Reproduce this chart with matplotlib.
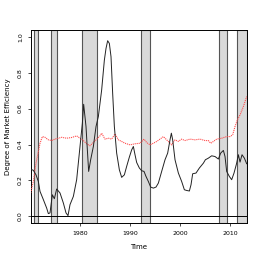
import matplotlib
matplotlib.use("Agg")
import matplotlib.pyplot as plt

# Recession bands (start, end)
band_start = [1970.87, 1974.2, 1980.47, 1992.27, 2007.73, 2011.47]
band_end = [1971.67, 1975.4, 1983.47, 1993.93, 2009.47, 2013.33]

# Black solid line: degree of market efficiency
eff_years = [1970.13, 1970.67, 1971.2, 1971.67, 1972.0, 1972.67, 1973.33, 1973.67, 1974.0,
             1974.47, 1974.87, 1975.33, 1976.0, 1976.67, 1977.2, 1977.6, 1978.0, 1978.67,
             1979.33, 1980.0, 1980.47, 1980.73, 1981.2, 1981.47, 1981.73, 1982.13, 1982.67,
             1983.2, 1983.67, 1984.33, 1984.87, 1985.2, 1985.53, 1985.87, 1986.2, 1986.53,
             1986.87, 1987.33, 1987.87, 1988.33, 1988.87, 1989.33, 1989.87, 1990.33, 1990.67,
             1991.0, 1991.33, 1991.87, 1992.33, 1992.8, 1993.2, 1993.67, 1994.13, 1994.67,
             1995.2, 1995.67, 1996.33, 1997.0, 1997.53, 1998.0, 1998.27, 1998.53, 1999.0,
             1999.67, 2000.33, 2000.87, 2001.33, 2001.87, 2002.2, 2002.53, 2003.2, 2003.87,
             2004.67, 2005.07, 2005.67, 2006.33, 2007.0, 2007.67, 2008.13, 2008.67, 2009.0,
             2009.33, 2009.87, 2010.33, 2010.8, 2011.33, 2011.67, 2012.0, 2012.4, 2012.87,
             2013.33]
eff_values = [0.263, 0.256, 0.231, 0.194, 0.139, 0.093, 0.046, 0.015, 0.019,
              0.12, 0.098, 0.152, 0.13, 0.074, 0.019, 0.004, 0.065, 0.111,
              0.204, 0.389, 0.519, 0.624, 0.5, 0.37, 0.25, 0.315, 0.389,
              0.5, 0.556, 0.704, 0.87, 0.935, 0.978, 0.963, 0.889, 0.685,
              0.5, 0.352, 0.259, 0.217, 0.231, 0.278, 0.33, 0.37, 0.389,
              0.343, 0.3, 0.269, 0.254, 0.25, 0.222, 0.194, 0.163, 0.157,
              0.163, 0.185, 0.25, 0.315, 0.352, 0.426, 0.463, 0.426, 0.315,
              0.241, 0.194, 0.148, 0.144, 0.141, 0.176, 0.237, 0.241, 0.269,
              0.296, 0.315, 0.324, 0.337, 0.333, 0.319, 0.352, 0.367, 0.333,
              0.25, 0.222, 0.204, 0.241, 0.296, 0.343, 0.302, 0.343, 0.324,
              0.293]

# Red dotted line
red_years = [1970.13, 1970.67, 1971.2, 1971.67, 1972.0, 1972.47, 1973.0, 1973.67, 1974.33,
             1975.0, 1975.67, 1976.33, 1977.33, 1978.33, 1979.33, 1980.0, 1980.67, 1981.33,
             1982.0, 1982.67, 1983.33, 1984.0, 1984.33, 1985.0, 1985.67, 1986.33, 1987.0,
             1987.67, 1988.33, 1989.0, 1990.0, 1991.0, 1992.0, 1992.8, 1993.33, 1994.0,
             1994.67, 1995.33, 1996.0, 1996.67, 1997.33, 1998.0, 1998.33, 1999.0, 1999.67,
             2000.33, 2001.0, 2002.0, 2003.0, 2004.0, 2005.0, 2005.67, 2006.13, 2006.67,
             2007.33, 2008.33, 2009.33, 2010.0, 2010.53, 2011.0, 2011.47, 2012.0, 2012.67,
             2013.33]
red_values = [0.13, 0.194, 0.296, 0.36, 0.407, 0.444, 0.44, 0.426, 0.422,
              0.43, 0.435, 0.44, 0.435, 0.439, 0.448, 0.435, 0.422, 0.404,
              0.393, 0.411, 0.43, 0.448, 0.463, 0.43, 0.435, 0.43, 0.459,
              0.426, 0.417, 0.407, 0.398, 0.404, 0.407, 0.43, 0.411, 0.398,
              0.407, 0.417, 0.43, 0.444, 0.426, 0.407, 0.398, 0.426, 0.417,
              0.43, 0.422, 0.43, 0.426, 0.43, 0.422, 0.422, 0.407, 0.417,
              0.43, 0.435, 0.444, 0.444, 0.454, 0.5, 0.537, 0.565, 0.611,
              0.667]

y_ticks = [0.0, 0.2, 0.4, 0.6, 0.8, 1.0]
y_ticklabels = ["0.0", "0.2", "0.4", "0.6", "0.8", "1.0"]
x_ticks = [1980, 1990, 2000, 2010]

fig = plt.figure(figsize=(2.62, 2.62), dpi=100)
ax = fig.add_axes([0.117, 0.149, 0.8245, 0.736])

for s, e in zip(band_start, band_end):
    ax.axvspan(s, e, facecolor="#d9d9d9", edgecolor="#555555", linewidth=0.8, zorder=1)

ax.axhline(0, color="black", linewidth=0.7, zorder=2)
ax.plot(red_years, red_values, color="#ff4d4d", linestyle=(0, (1, 0.8)), linewidth=0.8, zorder=3)
ax.plot(eff_years, eff_values, color="#222222", linewidth=0.7, zorder=4)

ax.set_xlim(1970.13, 2013.33)
ax.set_ylim(-0.037, 1.037)
ax.set_xticks(x_ticks)
ax.set_xticklabels([str(t) for t in x_ticks], fontsize=4.5)
ax.set_yticks(y_ticks)
ax.set_yticklabels(y_ticklabels, fontsize=4.5, rotation=90, va="center")
ax.tick_params(length=2.5, width=0.5, pad=3)
for sp in ax.spines.values():
    sp.set_linewidth(0.7)

ax.set_xlabel("Time", fontsize=5, labelpad=6)
ax.set_ylabel("Degree of Market Efficiency", fontsize=5, labelpad=5)

fig.savefig("out.png", dpi=100)
